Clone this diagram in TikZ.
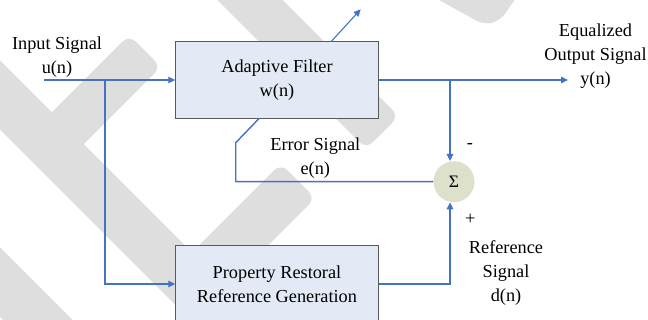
\documentclass[tikz,border=0pt]{standalone}
\usepackage{fontspec}
\setmainfont{Liberation Serif}
\usetikzlibrary{arrows.meta}
\definecolor{sigblue}{HTML}{4472C4}
\definecolor{boxfill}{HTML}{E4EAF5}
\definecolor{boxline}{HTML}{595959}
\definecolor{sumfill}{HTML}{DDE1CB}
\definecolor{wmark}{HTML}{DEDEDE}
\begin{document}
\begin{tikzpicture}[x=1pt,y=-1pt,
  lbl/.style={font=\fontsize{18.3pt}{24pt}\selectfont, inner sep=0pt, anchor=base},
  blockbox/.style={draw=boxline, line width=0.9pt, fill=boxfill, minimum width=202.6pt,
    minimum height=76.6pt, align=center, inner sep=0pt, font=\fontsize{18.3pt}{24pt}\selectfont},
  sig/.style={draw=sigblue, line width=1.4pt},
  sigarrow/.style={sig, -{Triangle[length=7pt,width=6.5pt]}},
  wm/.style={fill=wmark, rounded corners=9pt},
  wmline/.style={draw=wmark, line width=49pt},
]
\useasboundingbox (0,0) rectangle (648,320);
\clip (0,0) rectangle (648,320);
\fill[white] (0,0) rectangle (648,320);
% watermark
\draw[wmline] (-115,-20) -- (345,440);
\draw[wmline] (-150,132) -- (150,432);
\fill[wm] (44.1,120.1) -- (129.1,35.1) -- (160.9,66.9) -- (75.9,151.9) -- cycle;
\fill[wm] (182.7,261.7) -- (280.7,163.7) -- (315.3,198.3) -- (217.3,296.3) -- cycle;
\fill[wm] (216.3,-66.3) -- (398.8,116.2) -- (366.2,148.8) -- (183.7,-33.7) -- cycle;
\fill[wm] (425,-8) -- (484,25) -- (500,21) -- (520,-8) -- cycle;
% blocks
\node[blockbox] (af) at (277,80) {Adaptive Filter\\w(n)};
\node[blockbox] (pr) at (277,284) {Property Restoral\\Reference Generation};
\node[circle, fill=sumfill, minimum size=41pt, inner sep=0pt,
  font=\fontsize{17.5pt}{20pt}\selectfont] (sum) at (454,181.7) {Σ};
% coordinates
\coordinate (in) at (44.3,80);
\coordinate (jin) at (105,80);
\coordinate (jout) at (450,80);
\coordinate (out) at (568,80);
\coordinate (ecorner) at (235.7,142.7);
\coordinate (etop) at (259.3,118.3);
\coordinate (astart) at (331,41.7);
\coordinate (aend) at (360.7,9.3);
% connectors
\draw[sigarrow] (in) -- (af.west);
\draw[sigarrow] (jin) |- (pr.west);
\draw[sigarrow] (af.east) -- (out);
\draw[sigarrow] (jout) -- (jout |- sum.north);
\draw[sigarrow] (pr.east) -| (jout |- sum.south);
\draw[sig] (sum.west) -| (ecorner) -- (etop);
\draw[sigarrow, line width=1.1pt] (astart) -- (aend);
% labels
\node[lbl] (l1) at (57,50) {Input Signal};
\node[lbl] (l2) at (57,74) {u(n)};
\node[lbl] (l3) at (315.3,150.5) {Error Signal};
\node[lbl] (l4) at (315.3,174.5) {e(n)};
\node[lbl] (l5) at (595.5,36.7) {Equalized};
\node[lbl] (l6) at (595.5,60.7) {Output Signal};
\node[lbl] (l7) at (595.5,84.7) {y(n)};
\node[lbl] (l8) at (506,254) {Reference};
\node[lbl] (l9) at (506,278) {Signal};
\node[lbl] (l10) at (506,302) {d(n)};
\node[lbl] (minus) at (470,148.5) {-};
\node[lbl] (plus) at (470.2,224.6) {+};
\end{tikzpicture}
\end{document}
